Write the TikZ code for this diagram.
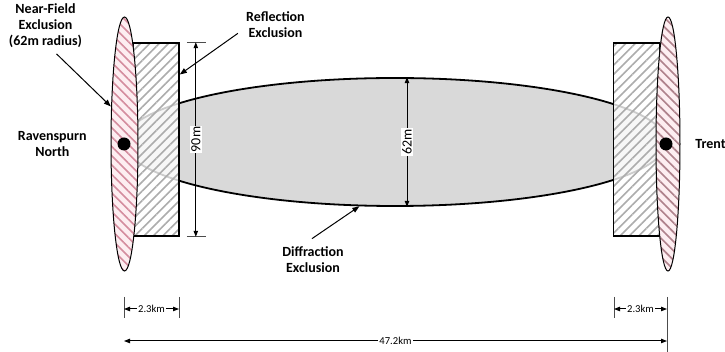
\documentclass[tikz,border=0pt]{standalone}
\usepackage{fontspec}
\setmainfont{Carlito}
\usepackage{xcolor}
\usetikzlibrary{shapes.geometric, arrows.meta, positioning, calc, patterns.meta}

\definecolor{hatchred}{RGB}{212,140,158}
\definecolor{hatchdull}{RGB}{175,130,140}
\definecolor{hatchgrey}{RGB}{172,172,172}
\definecolor{nfpink}{RGB}{253,238,241}
\definecolor{diffgrey}{RGB}{217,217,217}

\begin{document}
\begin{tikzpicture}[
  x=0.5pt, y=-0.5pt,
  diffzone/.style={draw, ellipse, line width=0.9pt, fill=diffgrey,
                   minimum width=271pt, minimum height=64pt, inner sep=0pt},
  nearfield/.style={draw, ellipse, line width=0.5pt, minimum width=13pt,
                    minimum height=127pt, inner sep=0pt,
                    preaction={fill=nfpink},
                    pattern={Lines[angle=-45, distance=3.3pt, line width=0.8pt]},
                    pattern color=hatchred},
  reflect/.style={draw, rectangle, line width=0.7pt, minimum width=23pt,
                  minimum height=96.5pt, inner sep=0pt,
                  preaction={fill=white, fill opacity=0.8},
                  pattern={Lines[angle=45, distance=3.3pt, line width=0.8pt]},
                  pattern color=hatchgrey},
  site/.style={circle, fill=black, minimum size=6.5pt, inner sep=0pt},
  lbl/.style={font=\bfseries\fontsize{7}{8}\selectfont, align=center, inner sep=1pt},
  dimlbl/.style={font=\fontsize{7}{8}\selectfont, fill=white, inner sep=0.6pt},
  kmlbl/.style={font=\fontsize{5.3}{6}\selectfont, fill=white, inner sep=0.6pt},
  dim/.style={{Triangle[length=3pt,width=2.2pt]}-{Triangle[length=3pt,width=2.2pt]},
              line width=0.5pt},
  ext/.style={line width=0.5pt, black!70},
  arr/.style={-{Triangle[length=3.5pt,width=2.6pt]}, line width=0.5pt}
]
\useasboundingbox (0,0) rectangle (725,352);

\node[diffzone] (diff) at (395,142) {};
\node[reflect] (reflL) at (156,139.5) {};
\node[reflect] (reflR) at (636.5,139.5) {};
\node[nearfield, minimum width=13.5pt] (nfL) at (124.5,144) {};
\node[nearfield, minimum width=12pt, pattern color=hatchdull] (nfR) at (668,144) {};
\node[site] (rnDot) at (124,144) {};
\node[site] (trDot) at (666,144) {};

\node[lbl, left=14pt of rnDot] (rnLbl) {Ravenspurn\\North};
\node[lbl, right=10pt of trDot] (trLbl) {Trent};
\node[lbl] (nfLbl) at (45.5,25.5) {Near-Field\\Exclusion\\(62m radius)};
\node[lbl] (reflLbl) at (275.5,24.5) {Reflection\\Exclusion};
\node[lbl] (diffLbl) at (313,260) {Diffraction\\Exclusion};

\draw[arr] (nfLbl.south) ++(11,4) -- (nfL.110);
\draw[arr] (reflLbl.south west) ++(-6,-6.5) -- ($(reflL.north east)!0.166!(reflL.south east)$);
\draw[arr] (diffLbl.north) ++(-1,-6) -- (diff.241);

\coordinate (d90t) at ($(reflL.north east)+(16,0)$);
\coordinate (d90b) at ($(reflL.south east)+(16,0)$);
\draw[ext] ($(d90t)+(-9,0)$) -- ($(d90t)+(10,0)$);
\draw[ext] ($(d90b)+(-9,0)$) -- ($(d90b)+(10,0)$);
\draw[dim] (d90t) -- node[dimlbl, rotate=90] (l90) {90m} (d90b);

\coordinate (d62t) at ($(diff.north)+(12,0)$);
\coordinate (d62b) at ($(diff.south)+(12,0)$);
\draw[dim] (d62t) -- node[dimlbl, rotate=90] (l62) {62m} (d62b);

\coordinate (kmA) at (124,309);
\coordinate (kmB) at (179,309);
\coordinate (kmC) at (614,309);
\coordinate (kmD) at (667,309);
\coordinate (totA) at (124,341);
\coordinate (totB) at (667,341);
\draw[ext] ($(kmA)+(0,-12)$) -- ($(kmA)+(0,9)$);
\draw[ext] ($(kmB)+(0,-12)$) -- ($(kmB)+(0,9)$);
\draw[ext] ($(kmC)+(0,-12)$) -- ($(kmC)+(0,9)$);
\draw[ext] ($(kmD)+(0,-12)$) -- (kmD |- 0,352);
\draw[dim] (kmA) -- node[kmlbl] (kmL) {2.3km} (kmB);
\draw[dim] (kmC) -- node[kmlbl] (kmR) {2.3km} (kmD);
\draw[dim] (totA) -- node[kmlbl] (tot) {47.2km} (totB);
\end{tikzpicture}
\end{document}
